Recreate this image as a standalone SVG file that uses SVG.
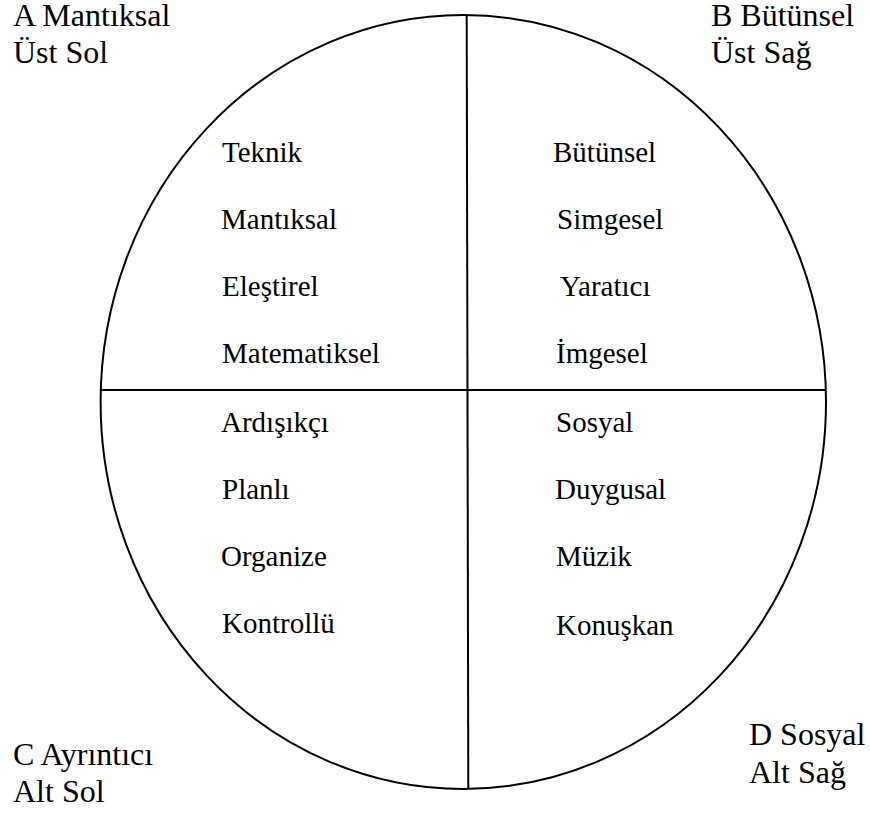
<svg xmlns="http://www.w3.org/2000/svg" width="870" height="814" viewBox="0 0 870 814">
<style>
.ln{fill:none;stroke:#000;stroke-width:2}
.t{font-size:29px;fill:#000}
.c{font-size:32px;fill:#000}
</style>
<rect width="870" height="814" fill="#fff"/>
<g id="connectors">
<ellipse class="ln" cx="463.3" cy="402" rx="362.7" ry="387"/>
<line class="ln" x1="466.7" y1="15" x2="468.3" y2="789"/>
<line class="ln" x1="100.6" y1="390" x2="826" y2="390"/>
</g>
<g id="cornerA" style="font-family:'Liberation Serif'"><text class="c" x="13" y="26">A Mantıksal</text><text class="c" x="13" y="63">Üst Sol</text></g>
<g id="cornerB" style="font-family:'Liberation Serif'"><text class="c" x="711" y="26">B Bütünsel</text><text class="c" x="711" y="63">Üst Sağ</text></g>
<g id="cornerC" style="font-family:'Liberation Serif'"><text class="c" x="13" y="765">C Ayrıntıcı</text><text class="c" x="13" y="802">Alt Sol</text></g>
<g id="cornerD" style="font-family:'Liberation Serif'"><text class="c" x="749" y="745">D Sosyal</text><text class="c" x="749" y="783">Alt Sağ</text></g>
<g id="quadA" style="font-family:'Liberation Serif'">
<text class="t" x="222" y="162">Teknik</text>
<text class="t" x="221" y="229">Mantıksal</text>
<text class="t" x="222" y="296">Eleştirel</text>
<text class="t" x="222" y="363">Matematiksel</text>
</g>
<g id="quadB" style="font-family:'Liberation Serif'">
<text class="t" x="553" y="162">Bütünsel</text>
<text class="t" x="557" y="229">Simgesel</text>
<text class="t" x="560" y="296">Yaratıcı</text>
<text class="t" x="556" y="363">İmgesel</text>
</g>
<g id="quadC" style="font-family:'Liberation Serif'">
<text class="t" x="221" y="432">Ardışıkçı</text>
<text class="t" x="222" y="499">Planlı</text>
<text class="t" x="221" y="566">Organize</text>
<text class="t" x="222" y="633">Kontrollü</text>
</g>
<g id="quadD" style="font-family:'Liberation Serif'">
<text class="t" x="556" y="432">Sosyal</text>
<text class="t" x="555" y="499">Duygusal</text>
<text class="t" x="556" y="566">Müzik</text>
<text class="t" x="556" y="635">Konuşkan</text>
</g>
</svg>
